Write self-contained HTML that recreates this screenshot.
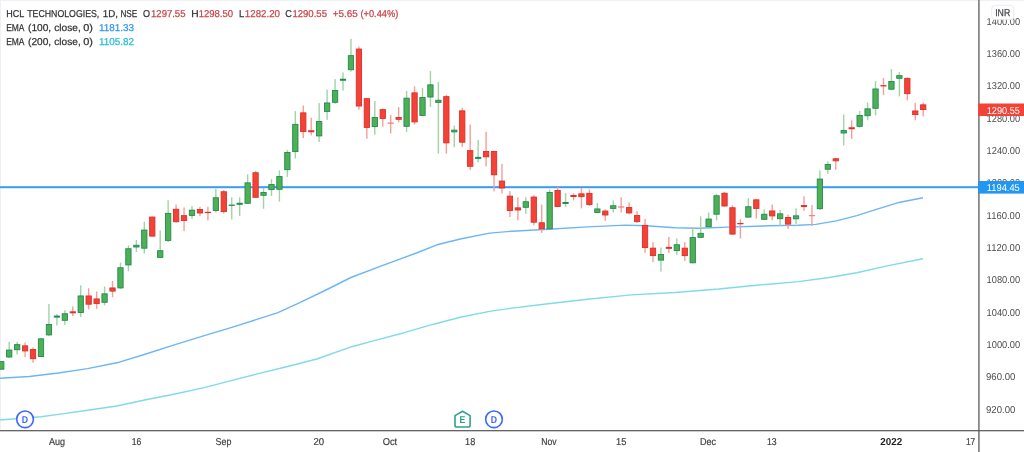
<!DOCTYPE html>
<html lang="en"><head><meta charset="utf-8"><title>HCL TECHNOLOGIES chart</title>
<style>html,body{margin:0;padding:0;background:#fff;overflow:hidden}svg{display:block}text{font-family:"Liberation Sans",sans-serif;text-rendering:geometricPrecision}</style>
</head><body>
<svg width="1024" height="452" viewBox="0 0 1024 452">
<rect x="0" y="0" width="1024" height="452" fill="#ffffff"/>
<rect x="0" y="0" width="1024" height="0.7" fill="#e9ebf0"/>
<rect x="0" y="0" width="1" height="431" fill="#eef0f7"/>
<path d="M0.0 378.2 L29.2 376.5 L58.4 373.0 L87.6 368.6 L116.8 362.8 L145.9 354.0 L175.1 344.7 L204.3 335.6 L233.5 326.9 L256.0 319.7 L277.9 312.6 L299.8 302.6 L326.0 290.0 L350.9 277.5 L381.5 265.8 L416.5 253.0 L437.0 244.8 L460.3 239.0 L489.5 233.1 L512.0 231.2 L543.8 229.5 L587.6 226.9 L625.5 225.1 L646.0 225.7 L675.1 227.7 L698.5 228.3 L727.7 227.1 L756.0 226.3 L769.2 225.8 L798.4 225.2 L815.9 224.4 L836.3 220.9 L856.8 215.6 L877.2 209.2 L897.6 202.8 L923.0 197.8" fill="none" stroke="#6db6f5" stroke-width="1.4" stroke-linejoin="round"/>
<path d="M0.0 420.0 L40.9 416.8 L58.4 414.4 L87.6 410.3 L116.8 406.0 L145.9 399.8 L175.1 394.0 L204.3 387.6 L229.2 381.1 L258.4 373.6 L287.6 366.5 L316.8 359.0 L351.8 346.7 L375.1 340.3 L404.3 332.7 L433.5 324.2 L460.3 317.2 L489.5 311.4 L512.0 308.1 L543.8 304.2 L587.6 299.2 L631.3 294.9 L675.1 292.5 L718.9 289.0 L756.0 285.2 L769.2 284.2 L798.4 281.6 L827.6 277.8 L856.8 272.8 L886.0 266.1 L923.0 258.8" fill="none" stroke="#7fdbe8" stroke-width="1.4" stroke-linejoin="round"/>
<rect x="0" y="186.2" width="979" height="2" fill="#379df4"/>
<g><rect x="0.55" y="361.0" width="1.4" height="8.7" fill="#a0d4a3"/><rect x="8.50" y="341.8" width="1.4" height="16.2" fill="#a0d4a3"/><rect x="16.45" y="341.8" width="1.4" height="12.6" fill="#a0d4a3"/><rect x="24.39" y="342.5" width="1.4" height="14.6" fill="#f4a09a"/><rect x="32.34" y="347.4" width="1.4" height="15.3" fill="#f4a09a"/><rect x="40.29" y="338.2" width="1.4" height="18.8" fill="#a0d4a3"/><rect x="48.24" y="304.0" width="1.4" height="32.2" fill="#a0d4a3"/><rect x="56.19" y="313.8" width="1.4" height="11.7" fill="#a0d4a3"/><rect x="64.13" y="310.1" width="1.4" height="14.9" fill="#a0d4a3"/><rect x="72.08" y="306.5" width="1.4" height="9.7" fill="#f4a09a"/><rect x="80.03" y="285.3" width="1.4" height="31.7" fill="#a0d4a3"/><rect x="87.98" y="288.2" width="1.4" height="21.2" fill="#f4a09a"/><rect x="95.93" y="291.4" width="1.4" height="17.5" fill="#f4a09a"/><rect x="103.87" y="286.5" width="1.4" height="18.8" fill="#a0d4a3"/><rect x="111.82" y="281.0" width="1.4" height="16.3" fill="#f4a09a"/><rect x="119.77" y="262.7" width="1.4" height="26.4" fill="#a0d4a3"/><rect x="127.72" y="245.4" width="1.4" height="25.9" fill="#a0d4a3"/><rect x="135.67" y="239.9" width="1.4" height="12.1" fill="#a0d4a3"/><rect x="143.61" y="221.8" width="1.4" height="31.7" fill="#a0d4a3"/><rect x="151.56" y="216.6" width="1.4" height="19.9" fill="#f4a09a"/><rect x="159.51" y="230.4" width="1.4" height="27.5" fill="#a0d4a3"/><rect x="167.46" y="200.2" width="1.4" height="41.8" fill="#a0d4a3"/><rect x="175.41" y="204.5" width="1.4" height="18.2" fill="#f4a09a"/><rect x="183.35" y="207.4" width="1.4" height="23.6" fill="#f4a09a"/><rect x="191.30" y="206.0" width="1.4" height="12.9" fill="#a0d4a3"/><rect x="199.25" y="206.8" width="1.4" height="9.2" fill="#f4a09a"/><rect x="207.20" y="206.8" width="1.4" height="13.6" fill="#f4a09a"/><rect x="215.15" y="188.7" width="1.4" height="23.9" fill="#a0d4a3"/><rect x="223.09" y="190.0" width="1.4" height="23.7" fill="#f4a09a"/><rect x="231.04" y="197.3" width="1.4" height="22.2" fill="#a0d4a3"/><rect x="238.99" y="197.3" width="1.4" height="18.7" fill="#a0d4a3"/><rect x="246.94" y="174.3" width="1.4" height="29.7" fill="#a0d4a3"/><rect x="254.89" y="170.9" width="1.4" height="27.1" fill="#f4a09a"/><rect x="262.83" y="188.0" width="1.4" height="20.8" fill="#a0d4a3"/><rect x="270.78" y="179.1" width="1.4" height="16.9" fill="#a0d4a3"/><rect x="278.73" y="170.3" width="1.4" height="31.3" fill="#a0d4a3"/><rect x="286.68" y="149.9" width="1.4" height="27.0" fill="#a0d4a3"/><rect x="294.63" y="111.1" width="1.4" height="47.3" fill="#a0d4a3"/><rect x="302.57" y="105.5" width="1.4" height="32.6" fill="#f4a09a"/><rect x="310.52" y="117.7" width="1.4" height="17.6" fill="#f4a09a"/><rect x="318.47" y="103.1" width="1.4" height="38.9" fill="#a0d4a3"/><rect x="326.42" y="89.7" width="1.4" height="30.1" fill="#a0d4a3"/><rect x="334.37" y="79.1" width="1.4" height="24.7" fill="#a0d4a3"/><rect x="342.31" y="72.5" width="1.4" height="18.0" fill="#a0d4a3"/><rect x="350.26" y="38.8" width="1.4" height="32.9" fill="#a0d4a3"/><rect x="358.21" y="46.5" width="1.4" height="63.1" fill="#f4a09a"/><rect x="366.16" y="98.2" width="1.4" height="40.5" fill="#f4a09a"/><rect x="374.11" y="101.0" width="1.4" height="33.7" fill="#a0d4a3"/><rect x="382.05" y="108.5" width="1.4" height="18.2" fill="#f4a09a"/><rect x="390.00" y="115.1" width="1.4" height="18.3" fill="#f4a09a"/><rect x="397.95" y="107.1" width="1.4" height="15.3" fill="#f4a09a"/><rect x="405.90" y="91.0" width="1.4" height="41.0" fill="#a0d4a3"/><rect x="413.85" y="86.2" width="1.4" height="38.4" fill="#f4a09a"/><rect x="421.79" y="87.8" width="1.4" height="28.4" fill="#a0d4a3"/><rect x="429.74" y="71.1" width="1.4" height="35.8" fill="#a0d4a3"/><rect x="437.69" y="81.7" width="1.4" height="72.0" fill="#a0d4a3"/><rect x="445.64" y="94.9" width="1.4" height="58.8" fill="#f4a09a"/><rect x="453.59" y="125.7" width="1.4" height="21.5" fill="#a0d4a3"/><rect x="461.53" y="107.8" width="1.4" height="39.2" fill="#f4a09a"/><rect x="469.48" y="124.5" width="1.4" height="45.6" fill="#f4a09a"/><rect x="477.43" y="139.9" width="1.4" height="22.3" fill="#a0d4a3"/><rect x="485.38" y="131.7" width="1.4" height="34.7" fill="#f4a09a"/><rect x="493.33" y="151.0" width="1.4" height="40.4" fill="#f4a09a"/><rect x="501.27" y="163.8" width="1.4" height="29.6" fill="#f4a09a"/><rect x="509.22" y="191.0" width="1.4" height="26.0" fill="#f4a09a"/><rect x="517.17" y="197.4" width="1.4" height="23.0" fill="#f4a09a"/><rect x="525.12" y="197.4" width="1.4" height="16.4" fill="#a0d4a3"/><rect x="533.07" y="195.2" width="1.4" height="30.0" fill="#f4a09a"/><rect x="541.01" y="204.5" width="1.4" height="28.4" fill="#f4a09a"/><rect x="548.96" y="189.4" width="1.4" height="39.8" fill="#a0d4a3"/><rect x="556.91" y="186.6" width="1.4" height="20.4" fill="#f4a09a"/><rect x="564.86" y="193.0" width="1.4" height="14.0" fill="#a0d4a3"/><rect x="572.81" y="193.2" width="1.4" height="7.1" fill="#f4a09a"/><rect x="580.75" y="188.1" width="1.4" height="20.2" fill="#f4a09a"/><rect x="588.70" y="189.4" width="1.4" height="16.7" fill="#f4a09a"/><rect x="596.65" y="203.2" width="1.4" height="9.8" fill="#a0d4a3"/><rect x="604.60" y="209.3" width="1.4" height="11.6" fill="#f4a09a"/><rect x="612.55" y="200.5" width="1.4" height="12.0" fill="#a0d4a3"/><rect x="620.49" y="197.3" width="1.4" height="15.2" fill="#f4a09a"/><rect x="628.44" y="202.4" width="1.4" height="11.9" fill="#f4a09a"/><rect x="636.39" y="211.1" width="1.4" height="12.0" fill="#f4a09a"/><rect x="644.34" y="218.8" width="1.4" height="34.0" fill="#f4a09a"/><rect x="652.29" y="242.2" width="1.4" height="19.9" fill="#f4a09a"/><rect x="660.23" y="247.5" width="1.4" height="24.1" fill="#a0d4a3"/><rect x="668.18" y="236.9" width="1.4" height="16.1" fill="#f4a09a"/><rect x="676.13" y="238.5" width="1.4" height="16.4" fill="#a0d4a3"/><rect x="684.08" y="242.2" width="1.4" height="18.8" fill="#f4a09a"/><rect x="692.03" y="227.0" width="1.4" height="36.2" fill="#a0d4a3"/><rect x="699.97" y="216.4" width="1.4" height="21.3" fill="#a0d4a3"/><rect x="707.92" y="212.5" width="1.4" height="15.0" fill="#a0d4a3"/><rect x="715.87" y="193.9" width="1.4" height="26.5" fill="#a0d4a3"/><rect x="723.82" y="191.8" width="1.4" height="14.8" fill="#f4a09a"/><rect x="731.77" y="205.3" width="1.4" height="29.4" fill="#f4a09a"/><rect x="739.71" y="219.1" width="1.4" height="19.4" fill="#f4a09a"/><rect x="747.66" y="197.9" width="1.4" height="19.9" fill="#a0d4a3"/><rect x="755.61" y="199.2" width="1.4" height="19.4" fill="#f4a09a"/><rect x="763.56" y="209.3" width="1.4" height="10.6" fill="#a0d4a3"/><rect x="771.51" y="204.4" width="1.4" height="15.9" fill="#f4a09a"/><rect x="779.45" y="210.0" width="1.4" height="16.1" fill="#a0d4a3"/><rect x="787.40" y="214.7" width="1.4" height="14.3" fill="#f4a09a"/><rect x="795.35" y="208.3" width="1.4" height="15.9" fill="#a0d4a3"/><rect x="803.30" y="196.3" width="1.4" height="14.6" fill="#f4a09a"/><rect x="811.25" y="205.1" width="1.4" height="20.9" fill="#f4a09a"/><rect x="819.19" y="170.3" width="1.4" height="39.8" fill="#a0d4a3"/><rect x="827.14" y="161.3" width="1.4" height="12.5" fill="#a0d4a3"/><rect x="835.09" y="157.9" width="1.4" height="11.9" fill="#f4a09a"/><rect x="843.04" y="114.5" width="1.4" height="31.0" fill="#a0d4a3"/><rect x="850.99" y="120.3" width="1.4" height="18.6" fill="#f4a09a"/><rect x="858.93" y="111.0" width="1.4" height="16.5" fill="#a0d4a3"/><rect x="866.88" y="102.5" width="1.4" height="17.8" fill="#a0d4a3"/><rect x="874.83" y="81.0" width="1.4" height="34.5" fill="#a0d4a3"/><rect x="882.78" y="77.9" width="1.4" height="17.2" fill="#f4a09a"/><rect x="890.73" y="69.1" width="1.4" height="21.2" fill="#a0d4a3"/><rect x="898.67" y="72.0" width="1.4" height="24.4" fill="#a0d4a3"/><rect x="906.62" y="77.4" width="1.4" height="23.0" fill="#f4a09a"/><rect x="914.57" y="103.1" width="1.4" height="17.2" fill="#f4a09a"/><rect x="922.52" y="102.5" width="1.4" height="13.8" fill="#f4a09a"/></g>
<g><rect x="-1.40" y="361.65" width="5.30" height="7.55" fill="#4fb052" stroke="#1e8a58" stroke-width="0.9"/><rect x="6.55" y="350.05" width="5.30" height="6.95" fill="#4fb052" stroke="#1e8a58" stroke-width="0.9"/><rect x="14.50" y="344.65" width="5.30" height="5.05" fill="#4fb052" stroke="#1e8a58" stroke-width="0.9"/><rect x="22.44" y="345.85" width="5.30" height="5.05" fill="#f44336" stroke="#d9302a" stroke-width="0.9"/><rect x="30.39" y="349.45" width="5.30" height="9.25" fill="#f44336" stroke="#d9302a" stroke-width="0.9"/><rect x="38.34" y="338.85" width="5.30" height="17.65" fill="#4fb052" stroke="#1e8a58" stroke-width="0.9"/><rect x="46.29" y="324.45" width="5.30" height="10.45" fill="#4fb052" stroke="#1e8a58" stroke-width="0.9"/><rect x="53.79" y="315.60" width="6.2" height="2.00" fill="#1e8a58"/><rect x="62.18" y="313.75" width="5.30" height="6.55" fill="#4fb052" stroke="#1e8a58" stroke-width="0.9"/><rect x="69.68" y="311.30" width="6.2" height="2.00" fill="#d8342d"/><rect x="78.08" y="295.95" width="5.30" height="16.55" fill="#4fb052" stroke="#1e8a58" stroke-width="0.9"/><rect x="86.03" y="295.95" width="5.30" height="8.25" fill="#f44336" stroke="#d9302a" stroke-width="0.9"/><rect x="93.98" y="298.95" width="5.30" height="4.55" fill="#f44336" stroke="#d9302a" stroke-width="0.9"/><rect x="101.92" y="293.85" width="5.30" height="8.45" fill="#4fb052" stroke="#1e8a58" stroke-width="0.9"/><rect x="109.87" y="287.95" width="5.30" height="3.15" fill="#f44336" stroke="#d9302a" stroke-width="0.9"/><rect x="117.82" y="267.75" width="5.30" height="20.15" fill="#4fb052" stroke="#1e8a58" stroke-width="0.9"/><rect x="125.77" y="248.75" width="5.30" height="16.15" fill="#4fb052" stroke="#1e8a58" stroke-width="0.9"/><rect x="133.72" y="245.25" width="5.30" height="1.75" fill="#4fb052" stroke="#1e8a58" stroke-width="0.9"/><rect x="141.66" y="230.05" width="5.30" height="18.15" fill="#4fb052" stroke="#1e8a58" stroke-width="0.9"/><rect x="149.61" y="217.05" width="5.30" height="19.05" fill="#f44336" stroke="#d9302a" stroke-width="0.9"/><rect x="157.56" y="250.75" width="5.30" height="6.65" fill="#4fb052" stroke="#1e8a58" stroke-width="0.9"/><rect x="165.51" y="213.35" width="5.30" height="27.05" fill="#4fb052" stroke="#1e8a58" stroke-width="0.9"/><rect x="173.46" y="209.25" width="5.30" height="12.45" fill="#f44336" stroke="#d9302a" stroke-width="0.9"/><rect x="181.40" y="215.65" width="5.30" height="4.85" fill="#f44336" stroke="#d9302a" stroke-width="0.9"/><rect x="189.35" y="210.15" width="5.30" height="5.25" fill="#4fb052" stroke="#1e8a58" stroke-width="0.9"/><rect x="197.30" y="209.45" width="5.30" height="3.55" fill="#f44336" stroke="#d9302a" stroke-width="0.9"/><rect x="204.80" y="211.80" width="6.2" height="1.30" fill="#d8342d"/><rect x="213.20" y="197.75" width="5.30" height="12.75" fill="#4fb052" stroke="#1e8a58" stroke-width="0.9"/><rect x="221.14" y="191.75" width="5.30" height="19.85" fill="#f44336" stroke="#d9302a" stroke-width="0.9"/><rect x="228.64" y="204.60" width="6.2" height="1.30" fill="#1e8a58"/><rect x="236.59" y="202.80" width="6.2" height="2.00" fill="#1e8a58"/><rect x="244.99" y="182.85" width="5.30" height="20.45" fill="#4fb052" stroke="#1e8a58" stroke-width="0.9"/><rect x="252.94" y="172.75" width="5.30" height="24.55" fill="#f44336" stroke="#d9302a" stroke-width="0.9"/><rect x="260.88" y="192.45" width="5.30" height="2.85" fill="#4fb052" stroke="#1e8a58" stroke-width="0.9"/><rect x="268.83" y="184.55" width="5.30" height="5.05" fill="#4fb052" stroke="#1e8a58" stroke-width="0.9"/><rect x="276.78" y="176.55" width="5.30" height="12.75" fill="#4fb052" stroke="#1e8a58" stroke-width="0.9"/><rect x="284.73" y="152.45" width="5.30" height="17.25" fill="#4fb052" stroke="#1e8a58" stroke-width="0.9"/><rect x="292.68" y="124.35" width="5.30" height="27.25" fill="#4fb052" stroke="#1e8a58" stroke-width="0.9"/><rect x="300.62" y="112.85" width="5.30" height="18.75" fill="#f44336" stroke="#d9302a" stroke-width="0.9"/><rect x="308.12" y="130.25" width="6.2" height="2.00" fill="#d8342d"/><rect x="316.52" y="121.55" width="5.30" height="14.35" fill="#4fb052" stroke="#1e8a58" stroke-width="0.9"/><rect x="324.47" y="102.95" width="5.30" height="8.45" fill="#4fb052" stroke="#1e8a58" stroke-width="0.9"/><rect x="332.42" y="90.45" width="5.30" height="11.85" fill="#4fb052" stroke="#1e8a58" stroke-width="0.9"/><rect x="339.91" y="78.75" width="6.2" height="2.00" fill="#1e8a58"/><rect x="348.31" y="55.65" width="5.30" height="14.05" fill="#4fb052" stroke="#1e8a58" stroke-width="0.9"/><rect x="356.26" y="49.05" width="5.30" height="56.95" fill="#f44336" stroke="#d9302a" stroke-width="0.9"/><rect x="364.21" y="98.65" width="5.30" height="28.75" fill="#f44336" stroke="#d9302a" stroke-width="0.9"/><rect x="372.16" y="117.45" width="5.30" height="9.15" fill="#4fb052" stroke="#1e8a58" stroke-width="0.9"/><rect x="380.10" y="109.65" width="5.30" height="8.75" fill="#f44336" stroke="#d9302a" stroke-width="0.9"/><rect x="387.60" y="122.50" width="6.2" height="1.30" fill="#ec8680"/><rect x="396.00" y="117.45" width="5.30" height="1.85" fill="#f44336" stroke="#d9302a" stroke-width="0.9"/><rect x="403.95" y="98.15" width="5.30" height="28.15" fill="#4fb052" stroke="#1e8a58" stroke-width="0.9"/><rect x="411.90" y="92.85" width="5.30" height="29.05" fill="#f44336" stroke="#d9302a" stroke-width="0.9"/><rect x="419.84" y="97.55" width="5.30" height="17.85" fill="#4fb052" stroke="#1e8a58" stroke-width="0.9"/><rect x="427.79" y="84.85" width="5.30" height="12.15" fill="#4fb052" stroke="#1e8a58" stroke-width="0.9"/><rect x="435.74" y="100.25" width="5.30" height="2.15" fill="#4fb052" stroke="#1e8a58" stroke-width="0.9"/><rect x="443.69" y="96.65" width="5.30" height="46.25" fill="#f44336" stroke="#d9302a" stroke-width="0.9"/><rect x="451.64" y="130.15" width="5.30" height="1.75" fill="#4fb052" stroke="#1e8a58" stroke-width="0.9"/><rect x="459.58" y="110.85" width="5.30" height="31.35" fill="#f44336" stroke="#d9302a" stroke-width="0.9"/><rect x="467.53" y="150.65" width="5.30" height="15.65" fill="#f44336" stroke="#d9302a" stroke-width="0.9"/><rect x="475.03" y="156.90" width="6.2" height="2.00" fill="#1e8a58"/><rect x="483.43" y="151.45" width="5.30" height="5.35" fill="#f44336" stroke="#d9302a" stroke-width="0.9"/><rect x="491.38" y="151.45" width="5.30" height="23.35" fill="#f44336" stroke="#d9302a" stroke-width="0.9"/><rect x="499.32" y="181.05" width="5.30" height="6.95" fill="#f44336" stroke="#d9302a" stroke-width="0.9"/><rect x="507.27" y="196.15" width="5.30" height="14.35" fill="#f44336" stroke="#d9302a" stroke-width="0.9"/><rect x="515.22" y="207.85" width="5.30" height="2.15" fill="#f44336" stroke="#d9302a" stroke-width="0.9"/><rect x="523.17" y="201.75" width="5.30" height="5.55" fill="#4fb052" stroke="#1e8a58" stroke-width="0.9"/><rect x="531.12" y="197.05" width="5.30" height="25.15" fill="#f44336" stroke="#d9302a" stroke-width="0.9"/><rect x="539.06" y="222.75" width="5.30" height="6.05" fill="#f44336" stroke="#d9302a" stroke-width="0.9"/><rect x="547.01" y="192.45" width="5.30" height="36.35" fill="#4fb052" stroke="#1e8a58" stroke-width="0.9"/><rect x="554.96" y="190.45" width="5.30" height="16.05" fill="#f44336" stroke="#d9302a" stroke-width="0.9"/><rect x="562.46" y="201.95" width="6.2" height="2.00" fill="#1e8a58"/><rect x="570.41" y="195.00" width="6.2" height="2.00" fill="#d8342d"/><rect x="578.80" y="193.85" width="5.30" height="2.85" fill="#f44336" stroke="#d9302a" stroke-width="0.9"/><rect x="586.75" y="193.35" width="5.30" height="11.15" fill="#f44336" stroke="#d9302a" stroke-width="0.9"/><rect x="594.70" y="208.95" width="5.30" height="3.45" fill="#4fb052" stroke="#1e8a58" stroke-width="0.9"/><rect x="602.65" y="211.05" width="5.30" height="3.95" fill="#f44336" stroke="#d9302a" stroke-width="0.9"/><rect x="610.60" y="205.75" width="5.30" height="2.65" fill="#4fb052" stroke="#1e8a58" stroke-width="0.9"/><rect x="618.09" y="206.35" width="6.2" height="1.30" fill="#ec8680"/><rect x="626.49" y="207.55" width="5.30" height="5.35" fill="#f44336" stroke="#d9302a" stroke-width="0.9"/><rect x="634.44" y="215.55" width="5.30" height="6.05" fill="#f44336" stroke="#d9302a" stroke-width="0.9"/><rect x="642.39" y="225.35" width="5.30" height="22.25" fill="#f44336" stroke="#d9302a" stroke-width="0.9"/><rect x="650.34" y="248.15" width="5.30" height="7.45" fill="#f44336" stroke="#d9302a" stroke-width="0.9"/><rect x="658.28" y="254.55" width="5.30" height="5.55" fill="#4fb052" stroke="#1e8a58" stroke-width="0.9"/><rect x="665.78" y="246.85" width="6.2" height="2.00" fill="#d8342d"/><rect x="674.18" y="244.75" width="5.30" height="5.85" fill="#4fb052" stroke="#1e8a58" stroke-width="0.9"/><rect x="682.13" y="248.15" width="5.30" height="7.45" fill="#f44336" stroke="#d9302a" stroke-width="0.9"/><rect x="690.08" y="237.55" width="5.30" height="25.25" fill="#4fb052" stroke="#1e8a58" stroke-width="0.9"/><rect x="698.02" y="233.35" width="5.30" height="3.95" fill="#4fb052" stroke="#1e8a58" stroke-width="0.9"/><rect x="705.97" y="219.05" width="5.30" height="7.65" fill="#4fb052" stroke="#1e8a58" stroke-width="0.9"/><rect x="713.92" y="195.75" width="5.30" height="18.45" fill="#4fb052" stroke="#1e8a58" stroke-width="0.9"/><rect x="721.87" y="193.25" width="5.30" height="12.75" fill="#f44336" stroke="#d9302a" stroke-width="0.9"/><rect x="729.82" y="207.75" width="5.30" height="26.35" fill="#f44336" stroke="#d9302a" stroke-width="0.9"/><rect x="737.31" y="222.95" width="6.2" height="1.30" fill="#d8342d"/><rect x="745.71" y="206.75" width="5.30" height="10.35" fill="#4fb052" stroke="#1e8a58" stroke-width="0.9"/><rect x="753.66" y="199.85" width="5.30" height="8.55" fill="#f44336" stroke="#d9302a" stroke-width="0.9"/><rect x="761.61" y="214.25" width="5.30" height="5.05" fill="#4fb052" stroke="#1e8a58" stroke-width="0.9"/><rect x="769.56" y="210.95" width="5.30" height="4.95" fill="#f44336" stroke="#d9302a" stroke-width="0.9"/><rect x="777.50" y="213.85" width="5.30" height="4.85" fill="#4fb052" stroke="#1e8a58" stroke-width="0.9"/><rect x="785.45" y="217.45" width="5.30" height="6.65" fill="#f44336" stroke="#d9302a" stroke-width="0.9"/><rect x="793.40" y="215.85" width="5.30" height="2.95" fill="#4fb052" stroke="#1e8a58" stroke-width="0.9"/><rect x="800.90" y="205.05" width="6.2" height="2.00" fill="#d8342d"/><rect x="808.85" y="214.95" width="6.2" height="1.30" fill="#ec8680"/><rect x="817.24" y="179.05" width="5.30" height="29.65" fill="#4fb052" stroke="#1e8a58" stroke-width="0.9"/><rect x="825.19" y="164.45" width="5.30" height="4.75" fill="#4fb052" stroke="#1e8a58" stroke-width="0.9"/><rect x="833.14" y="158.75" width="5.30" height="2.05" fill="#f44336" stroke="#d9302a" stroke-width="0.9"/><rect x="841.09" y="130.55" width="5.30" height="2.45" fill="#4fb052" stroke="#1e8a58" stroke-width="0.9"/><rect x="848.59" y="127.25" width="6.2" height="2.00" fill="#d8342d"/><rect x="856.98" y="115.45" width="5.30" height="10.85" fill="#4fb052" stroke="#1e8a58" stroke-width="0.9"/><rect x="864.93" y="108.85" width="5.30" height="6.85" fill="#4fb052" stroke="#1e8a58" stroke-width="0.9"/><rect x="872.88" y="88.95" width="5.30" height="19.35" fill="#4fb052" stroke="#1e8a58" stroke-width="0.9"/><rect x="880.38" y="85.15" width="6.2" height="1.30" fill="#d8342d"/><rect x="888.78" y="81.45" width="5.30" height="7.75" fill="#4fb052" stroke="#1e8a58" stroke-width="0.9"/><rect x="896.72" y="75.65" width="5.30" height="2.65" fill="#4fb052" stroke="#1e8a58" stroke-width="0.9"/><rect x="904.67" y="78.35" width="5.30" height="15.35" fill="#f44336" stroke="#d9302a" stroke-width="0.9"/><rect x="912.62" y="110.95" width="5.30" height="3.65" fill="#f44336" stroke="#d9302a" stroke-width="0.9"/><rect x="920.57" y="104.85" width="5.30" height="4.75" fill="#f44336" stroke="#d9302a" stroke-width="0.9"/></g>
<rect x="978.1" y="0" width="1.6" height="452" fill="#7a7a7a"/>
<rect x="0" y="430.1" width="1024" height="1.2" fill="#555555"/>
<text x="986.57" y="25.00" font-size="10" fill="#4d4d4d" textLength="33.59" lengthAdjust="spacingAndGlyphs">1400.00</text>
<text x="986.57" y="57.00" font-size="10" fill="#4d4d4d" textLength="33.59" lengthAdjust="spacingAndGlyphs">1360.00</text>
<text x="986.57" y="89.00" font-size="10" fill="#4d4d4d" textLength="33.59" lengthAdjust="spacingAndGlyphs">1320.00</text>
<text x="986.57" y="122.00" font-size="10" fill="#4d4d4d" textLength="33.59" lengthAdjust="spacingAndGlyphs">1280.00</text>
<text x="986.57" y="154.00" font-size="10" fill="#4d4d4d" textLength="33.59" lengthAdjust="spacingAndGlyphs">1240.00</text>
<text x="986.57" y="186.00" font-size="10" fill="#4d4d4d" textLength="33.59" lengthAdjust="spacingAndGlyphs">1200.00</text>
<text x="986.57" y="219.00" font-size="10" fill="#4d4d4d" textLength="33.59" lengthAdjust="spacingAndGlyphs">1160.00</text>
<text x="986.57" y="251.00" font-size="10" fill="#4d4d4d" textLength="33.59" lengthAdjust="spacingAndGlyphs">1120.00</text>
<text x="986.57" y="283.00" font-size="10" fill="#4d4d4d" textLength="33.59" lengthAdjust="spacingAndGlyphs">1080.00</text>
<text x="986.57" y="316.00" font-size="10" fill="#4d4d4d" textLength="33.59" lengthAdjust="spacingAndGlyphs">1040.00</text>
<text x="986.57" y="348.00" font-size="10" fill="#4d4d4d" textLength="33.59" lengthAdjust="spacingAndGlyphs">1000.00</text>
<text x="985.98" y="380.00" font-size="10" fill="#4d4d4d" textLength="29.33" lengthAdjust="spacingAndGlyphs">960.00</text>
<text x="985.98" y="413.00" font-size="10" fill="#4d4d4d" textLength="29.33" lengthAdjust="spacingAndGlyphs">920.00</text>
<rect x="991.8" y="5.3" width="22" height="14.2" rx="3" ry="3" fill="#ffffff" stroke="#e3e6ef" stroke-width="0.8"/>
<rect x="978.2" y="103.5" width="45.8" height="12.5" fill="#f44336"/>
<rect x="978.2" y="181" width="45.8" height="12.6" fill="#2196f3"/>
<text x="6.27" y="16.80" font-size="10" fill="#333333" stroke="#333333" stroke-width="0.25" textLength="18.00" lengthAdjust="spacingAndGlyphs">HCL</text>
<text x="27.25" y="16.80" font-size="10" fill="#333333" stroke="#333333" stroke-width="0.25" textLength="72.01" lengthAdjust="spacingAndGlyphs">TECHNOLOGIES,</text>
<text x="102.72" y="16.80" font-size="10" fill="#333333" stroke="#333333" stroke-width="0.25" textLength="15.16" lengthAdjust="spacingAndGlyphs">1D,</text>
<text x="120.40" y="16.80" font-size="10" fill="#333333" stroke="#333333" stroke-width="0.25" textLength="16.79" lengthAdjust="spacingAndGlyphs">NSE</text>
<text x="142.99" y="16.80" font-size="10" fill="#333333" stroke="#333333" stroke-width="0.25" textLength="7.02" lengthAdjust="spacingAndGlyphs">O</text>
<text x="151.08" y="16.80" font-size="10" fill="#c8464a" stroke="#c8464a" stroke-width="0.25" textLength="34.38" lengthAdjust="spacingAndGlyphs">1297.55</text>
<text x="191.30" y="16.80" font-size="10" fill="#333333" stroke="#333333" stroke-width="0.25" textLength="7.42" lengthAdjust="spacingAndGlyphs">H</text>
<text x="198.73" y="16.80" font-size="10" fill="#c8464a" stroke="#c8464a" stroke-width="0.25" textLength="34.38" lengthAdjust="spacingAndGlyphs">1298.50</text>
<text x="239.10" y="16.80" font-size="10" fill="#333333" stroke="#333333" stroke-width="0.25" textLength="5.20" lengthAdjust="spacingAndGlyphs">L</text>
<text x="244.87" y="16.80" font-size="10" fill="#c8464a" stroke="#c8464a" stroke-width="0.25" textLength="35.16" lengthAdjust="spacingAndGlyphs">1282.20</text>
<text x="285.26" y="16.80" font-size="10" fill="#333333" stroke="#333333" stroke-width="0.25" textLength="6.61" lengthAdjust="spacingAndGlyphs">C</text>
<text x="292.43" y="16.80" font-size="10" fill="#c8464a" stroke="#c8464a" stroke-width="0.25" textLength="34.53" lengthAdjust="spacingAndGlyphs">1290.55</text>
<text x="332.83" y="16.80" font-size="10" fill="#c8464a" stroke="#c8464a" stroke-width="0.25" textLength="25.05" lengthAdjust="spacingAndGlyphs">+5.65</text>
<text x="360.43" y="16.80" font-size="10" fill="#c8464a" stroke="#c8464a" stroke-width="0.25" textLength="37.94" lengthAdjust="spacingAndGlyphs">(+0.44%)</text>
<text x="6.22" y="30.70" font-size="10" fill="#333333" stroke="#333333" stroke-width="0.25" textLength="18.28" lengthAdjust="spacingAndGlyphs">EMA</text>
<text x="28.05" y="30.70" font-size="10" fill="#333333" stroke="#333333" stroke-width="0.25" textLength="23.12" lengthAdjust="spacingAndGlyphs">(100,</text>
<text x="54.32" y="30.70" font-size="10" fill="#333333" stroke="#333333" stroke-width="0.25" textLength="26.39" lengthAdjust="spacingAndGlyphs">close,</text>
<text x="83.27" y="30.70" font-size="10" fill="#333333" stroke="#333333" stroke-width="0.25" textLength="9.75" lengthAdjust="spacingAndGlyphs">0)</text>
<text x="6.22" y="44.60" font-size="10" fill="#333333" stroke="#333333" stroke-width="0.25" textLength="18.28" lengthAdjust="spacingAndGlyphs">EMA</text>
<text x="28.05" y="44.60" font-size="10" fill="#333333" stroke="#333333" stroke-width="0.25" textLength="23.12" lengthAdjust="spacingAndGlyphs">(200,</text>
<text x="54.32" y="44.60" font-size="10" fill="#333333" stroke="#333333" stroke-width="0.25" textLength="26.39" lengthAdjust="spacingAndGlyphs">close,</text>
<text x="83.27" y="44.60" font-size="10" fill="#333333" stroke="#333333" stroke-width="0.25" textLength="9.75" lengthAdjust="spacingAndGlyphs">0)</text>
<text x="99.02" y="30.70" font-size="10" fill="#2f96f0" stroke="#2f96f0" stroke-width="0.25" textLength="35.00" lengthAdjust="spacingAndGlyphs">1181.33</text>
<text x="99.02" y="44.60" font-size="10" fill="#25bcd2" stroke="#25bcd2" stroke-width="0.25" textLength="35.00" lengthAdjust="spacingAndGlyphs">1105.82</text>
<text x="48.94" y="445.20" font-size="10" fill="#404040" stroke="#404040" stroke-width="0.2" textLength="16.08" lengthAdjust="spacingAndGlyphs">Aug</text>
<text x="131.73" y="445.20" font-size="10" fill="#404040" stroke="#404040" stroke-width="0.2" textLength="9.56" lengthAdjust="spacingAndGlyphs">16</text>
<text x="215.61" y="445.20" font-size="10" fill="#404040" stroke="#404040" stroke-width="0.2" textLength="15.86" lengthAdjust="spacingAndGlyphs">Sep</text>
<text x="313.46" y="445.20" font-size="10" fill="#404040" stroke="#404040" stroke-width="0.2" textLength="10.67" lengthAdjust="spacingAndGlyphs">20</text>
<text x="382.64" y="445.20" font-size="10" fill="#404040" stroke="#404040" stroke-width="0.2" textLength="14.52" lengthAdjust="spacingAndGlyphs">Oct</text>
<text x="465.08" y="445.20" font-size="10" fill="#404040" stroke="#404040" stroke-width="0.2" textLength="10.12" lengthAdjust="spacingAndGlyphs">18</text>
<text x="541.21" y="445.20" font-size="10" fill="#404040" stroke="#404040" stroke-width="0.2" textLength="15.29" lengthAdjust="spacingAndGlyphs">Nov</text>
<text x="616.09" y="445.20" font-size="10" fill="#404040" stroke="#404040" stroke-width="0.2" textLength="10.26" lengthAdjust="spacingAndGlyphs">15</text>
<text x="700.05" y="445.20" font-size="10" fill="#404040" stroke="#404040" stroke-width="0.2" textLength="16.08" lengthAdjust="spacingAndGlyphs">Dec</text>
<text x="766.95" y="445.20" font-size="10" fill="#404040" stroke="#404040" stroke-width="0.2" textLength="9.68" lengthAdjust="spacingAndGlyphs">13</text>
<text x="965.93" y="445.20" font-size="10" fill="#404040" stroke="#404040" stroke-width="0.2" textLength="9.28" lengthAdjust="spacingAndGlyphs">17</text>
<text x="880.24" y="445.20" font-size="10" fill="#1f1f1f" font-weight="bold" textLength="21.93" lengthAdjust="spacingAndGlyphs">2022</text>
<text x="986.78" y="114.00" font-size="10" fill="#ffffff" textLength="33.04" lengthAdjust="spacingAndGlyphs">1290.55</text>
<text x="986.78" y="191.00" font-size="10" fill="#ffffff" textLength="33.04" lengthAdjust="spacingAndGlyphs">1194.45</text>
<text x="995.18" y="15.50" font-size="10" fill="#454545" stroke="#454545" stroke-width="0.25" textLength="15.02" lengthAdjust="spacingAndGlyphs">INR</text>
<circle cx="25.05" cy="419.30" r="8.35" fill="#ffffff" stroke="#3f66ff" stroke-width="1.6"/>
<text x="21.70" y="422.90" font-size="10" font-weight="bold" fill="#3f66ff" textLength="6.3" lengthAdjust="spacingAndGlyphs">D</text>
<circle cx="494.00" cy="419.30" r="8.35" fill="#ffffff" stroke="#3f66ff" stroke-width="1.6"/>
<text x="490.65" y="422.90" font-size="10" font-weight="bold" fill="#3f66ff" textLength="6.3" lengthAdjust="spacingAndGlyphs">D</text>
<path d="M455 415.6 L462.55 411.3 L470.1 415.6 L470.1 425.2 Q470.1 427 468.3 427 L456.8 427 Q455 427 455 425.2 Z" fill="#ffffff" stroke="#2fa190" stroke-width="1.6" stroke-linejoin="round"/>
<text x="459.5" y="422.9" font-size="10" font-weight="bold" fill="#2a9d8a" textLength="5.9" lengthAdjust="spacingAndGlyphs">E</text>
</svg>
</body></html>
